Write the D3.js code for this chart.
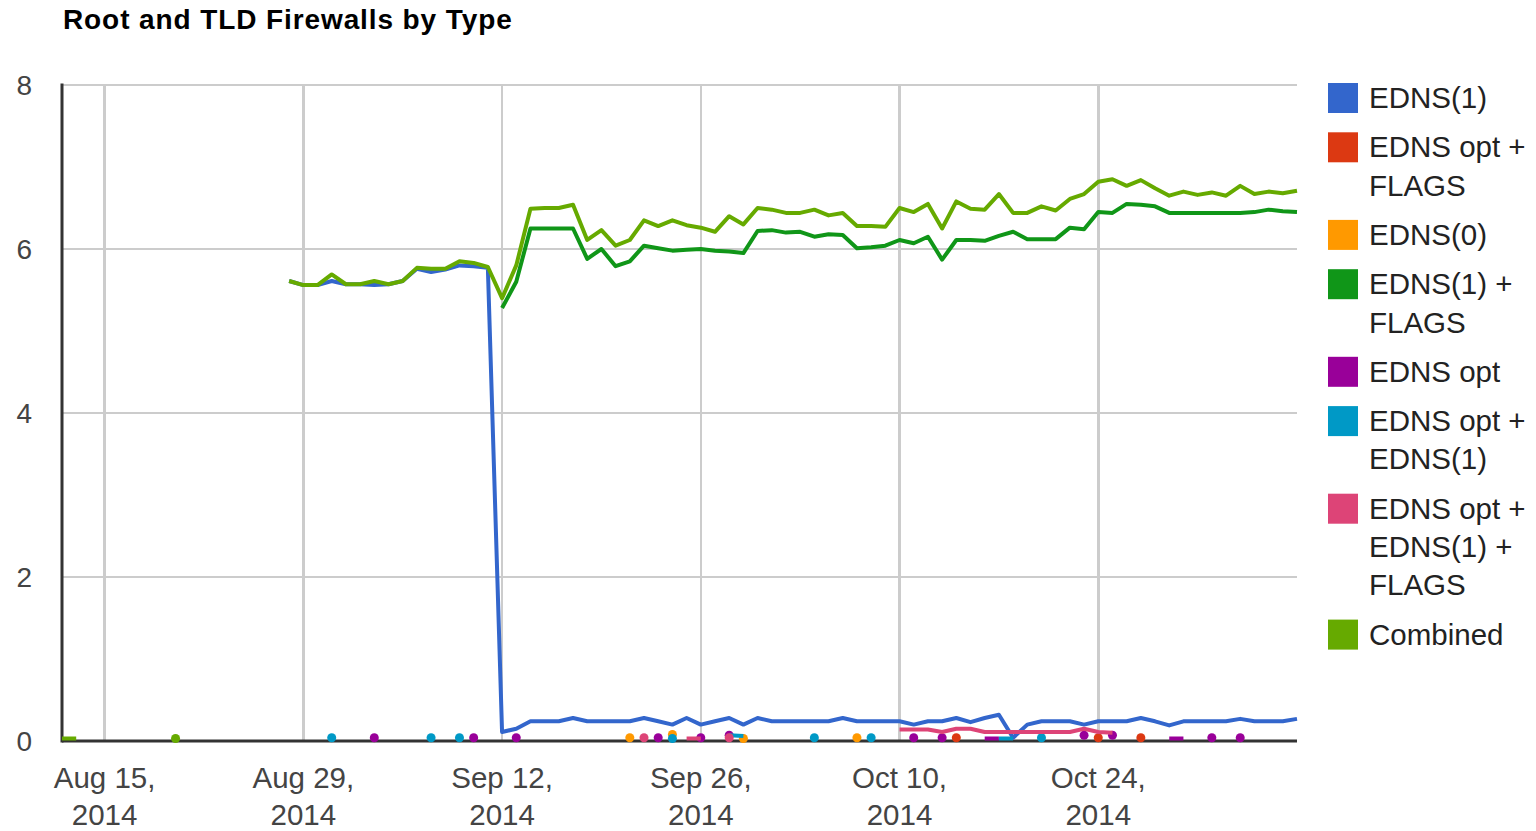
<!DOCTYPE html>
<meta charset="utf-8">
<style>
  body { margin: 0; background: #fff; font-family: Arial, "Liberation Sans", sans-serif; }
  .grid line { stroke: #cccccc; stroke-width: 2.5; shape-rendering: crispEdges; }
  .series path { fill: none; stroke-width: 4; stroke-linejoin: round; }
</style>
<body>
<script src="https://cdnjs.cloudflare.com/ajax/libs/d3/7.8.5/d3.min.js"></script>
<script>

// Date range of the horizontal axis
var firstDay = "2014-08-12", lastDay = "2014-11-07";
var xTicks = ["2014-08-15", "2014-08-29", "2014-09-12", "2014-09-26", "2014-10-10", "2014-10-24"];
var yTicks = [0, 2, 4, 6, 8];

// Each series is a list of runs: [first date, consecutive daily values]
var edns1 = [["2014-08-28", [5.61, 5.56, 5.56, 5.61, 5.57, 5.57, 5.56, 5.57, 5.61, 5.76, 5.72, 5.75, 5.80, 5.79, 5.77,
  0.11, 0.15, 0.24, 0.24, 0.24, 0.28, 0.24, 0.24, 0.24, 0.24, 0.28, 0.24, 0.20, 0.28, 0.20, 0.24, 0.28, 0.20, 0.28,
  0.24, 0.24, 0.24, 0.24, 0.24, 0.28, 0.24, 0.24, 0.24, 0.24, 0.20, 0.24, 0.24, 0.28, 0.23, 0.28, 0.32, 0.04, 0.20,
  0.24, 0.24, 0.24, 0.20, 0.24, 0.24, 0.24, 0.28, 0.24, 0.19, 0.24, 0.24, 0.24, 0.24, 0.27, 0.24, 0.24, 0.24, 0.27]]];
var ednsOptFlags = [["2014-10-14", [0.04]], ["2014-10-24", [0.04]], ["2014-10-27", [0.04]]];
var edns0 = [["2014-09-21", [0.04]], ["2014-09-24", [0.08]], ["2014-09-29", [0.03]], ["2014-10-07", [0.04]]];
var edns1Flags = [["2014-09-12", [5.28, 5.60, 6.25, 6.25, 6.25, 6.25, 5.88, 6.00, 5.79, 5.85, 6.04, 6.01, 5.98, 5.99,
  6.00, 5.98, 5.97, 5.95, 6.22, 6.23, 6.20, 6.21, 6.15, 6.18, 6.17, 6.01, 6.02, 6.04, 6.11, 6.07, 6.15, 5.87, 6.11,
  6.11, 6.10, 6.16, 6.21, 6.12, 6.12, 6.12, 6.26, 6.24, 6.45, 6.44, 6.55, 6.54, 6.52, 6.44, 6.44, 6.44, 6.44, 6.44,
  6.44, 6.45, 6.48, 6.46, 6.45]]];
var ednsOpt = [["2014-09-03", [0.04]], ["2014-09-10", [0.04]], ["2014-09-13", [0.04]], ["2014-09-23", [0.04]],
  ["2014-09-26", [0.04]], ["2014-09-28", [0.07]], ["2014-10-11", [0.04]], ["2014-10-13", [0.04]],
  ["2014-10-16", [0.03, 0.03]], ["2014-10-23", [0.07]], ["2014-10-25", [0.07]], ["2014-10-29", [0.03, 0.03]],
  ["2014-11-01", [0.04]], ["2014-11-03", [0.04]]];
var ednsOptEdns1 = [["2014-08-31", [0.04]], ["2014-09-07", [0.04]], ["2014-09-09", [0.04]], ["2014-09-24", [0.03]],
  ["2014-09-28", [0.07, 0.06]], ["2014-10-04", [0.04]], ["2014-10-08", [0.04]], ["2014-10-17", [0.03, 0.03]],
  ["2014-10-20", [0.04]]];
var ednsOptEdns1Flags = [["2014-09-22", [0.04]], ["2014-09-25", [0.03, 0.03]], ["2014-09-28", [0.04]],
  ["2014-10-10", [0.14, 0.14, 0.14, 0.11, 0.15, 0.15, 0.11, 0.11, 0.11, 0.11, 0.11, 0.11, 0.11, 0.15, 0.11, 0.10]]];
var combined = [["2014-08-12", [0.03, 0.03]], ["2014-08-20", [0.03]],
  ["2014-08-28", [5.61, 5.56, 5.56, 5.69, 5.57, 5.57, 5.61, 5.57, 5.61, 5.77, 5.76, 5.76, 5.85, 5.83, 5.78, 5.40,
  5.80, 6.49, 6.50, 6.50, 6.54, 6.11, 6.23, 6.04, 6.11, 6.35, 6.28, 6.35, 6.29, 6.26, 6.21, 6.40, 6.30, 6.50, 6.48,
  6.44, 6.44, 6.48, 6.41, 6.44, 6.28, 6.28, 6.27, 6.50, 6.45, 6.55, 6.25, 6.58, 6.49, 6.48, 6.67, 6.44, 6.44, 6.52,
  6.47, 6.61, 6.67, 6.82, 6.85, 6.77, 6.84, 6.74, 6.65, 6.70, 6.66, 6.69, 6.65, 6.77, 6.67, 6.70, 6.68, 6.71]]];

var seriesNames = [["EDNS(1)"], ["EDNS opt +", "FLAGS"], ["EDNS(0)"], ["EDNS(1) +", "FLAGS"], ["EDNS opt"],
  ["EDNS opt +", "EDNS(1)"], ["EDNS opt +", "EDNS(1) +", "FLAGS"], ["Combined"]];
var seriesRuns = [edns1, ednsOptFlags, edns0, edns1Flags, ednsOpt, ednsOptEdns1, ednsOptEdns1Flags, combined];
var colors = ["#3366cc", "#dc3912", "#ff9900", "#109618", "#990099", "#0099c6", "#dd4477", "#66aa00"];

var parse = d3.timeParse("%Y-%m-%d");
var days = d3.timeDay.range(parse(firstDay), d3.timeDay.offset(parse(lastDay), 1));

// expand runs into one value (or null) per day
var series = seriesRuns.map(function (runs) {
  var byDay = new Map();
  runs.forEach(function (r) {
    r[1].forEach(function (v, i) { byDay.set(+d3.timeDay.offset(parse(r[0]), i), v); });
  });
  return days.map(function (d) { return { date: d, v: byDay.has(+d) ? byDay.get(+d) : null }; });
});

var W = 1536, H = 831;
var plot = { left: 62, right: 1297, top: 85, bottom: 741 };

var svg = d3.select("body").append("svg").attr("width", W).attr("height", H);

var x = d3.scaleTime().domain([parse(firstDay), parse(lastDay)]).range([plot.left, plot.right]);
var y = d3.scaleLinear().domain([0, 8]).range([plot.bottom, plot.top]);

// title
svg.append("text")
  .attr("x", 63).attr("y", 29)
  .style("font-size", "28px").style("font-weight", "bold").style("letter-spacing", "0.9px")
  .style("fill", "#000")
  .text("Root and TLD Firewalls by Type");

// gridlines
var grid = svg.append("g").attr("class", "grid");
grid.selectAll(".h").data(yTicks.filter(function (t) { return t > 0; })).enter().append("line")
  .attr("x1", plot.left).attr("x2", plot.right)
  .attr("y1", function (d) { return y(d); }).attr("y2", function (d) { return y(d); });
grid.selectAll(".v").data(xTicks).enter().append("line")
  .attr("x1", function (d) { return x(parse(d)); }).attr("x2", function (d) { return x(parse(d)); })
  .attr("y1", plot.top).attr("y2", plot.bottom);

// baselines
svg.append("line").attr("x1", plot.left).attr("x2", plot.right).attr("y1", plot.bottom).attr("y2", plot.bottom)
  .style("stroke", "#333").style("stroke-width", 3);
svg.append("line").attr("x1", plot.left).attr("x2", plot.left).attr("y1", plot.top - 1.5).attr("y2", plot.bottom + 1.5)
  .style("stroke", "#333").style("stroke-width", 3);

// y labels
svg.append("g").selectAll("text").data(yTicks).enter().append("text")
  .attr("x", 32).attr("y", function (d) { return y(d) + 10; })
  .attr("text-anchor", "end")
  .style("font-size", "28px").style("fill", "#444")
  .text(function (d) { return d; });

// x labels, two lines
var fmt1 = d3.timeFormat("%b %-d,"), fmt2 = d3.timeFormat("%Y");
var xl = svg.append("g").selectAll("text").data(xTicks).enter().append("text")
  .attr("text-anchor", "middle")
  .style("font-size", "29.5px").style("fill", "#444");
xl.append("tspan").attr("x", function (d) { return x(parse(d)); }).attr("y", 788)
  .text(function (d) { return fmt1(parse(d)); });
xl.append("tspan").attr("x", function (d) { return x(parse(d)); }).attr("y", 825)
  .text(function (d) { return fmt2(parse(d)); });

// series lines and isolated points
var line = d3.line()
  .defined(function (d) { return d.v !== null; })
  .x(function (d) { return x(d.date); })
  .y(function (d) { return y(d.v); });

var sg = svg.append("g").attr("class", "series");
series.forEach(function (s, i) {
  sg.append("path").datum(s).attr("d", line).style("stroke", colors[i]);
  var lonely = s.filter(function (d, j) {
    return d.v !== null && (j === 0 || s[j - 1].v === null) && (j === s.length - 1 || s[j + 1].v === null);
  });
  sg.selectAll(null).data(lonely).enter().append("circle")
    .attr("cx", function (d) { return x(d.date); })
    .attr("cy", function (d) { return y(d.v); })
    .attr("r", 4.5)
    .style("fill", colors[i]);
});

// legend
var lineH = 38.3, gap = 11, cy = 98;
var legend = svg.append("g");
seriesNames.forEach(function (lines, i) {
  legend.append("rect")
    .attr("x", 1328).attr("y", cy - 15).attr("width", 30).attr("height", 30)
    .style("fill", colors[i]);
  var t = legend.append("text").style("font-size", "29.5px").style("fill", "#222");
  lines.forEach(function (l, k) {
    t.append("tspan").attr("x", 1369).attr("y", cy + 10 + k * lineH).text(l);
  });
  cy += lines.length * lineH + gap;
});

</script>
</body>
